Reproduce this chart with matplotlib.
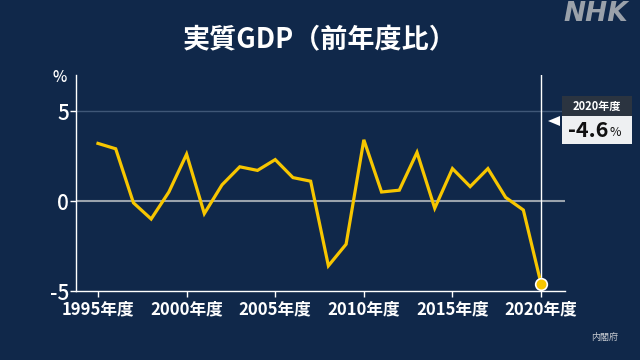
import numpy as np
import matplotlib.pyplot as plt
from matplotlib.patches import Rectangle, Polygon

plt.rcParams['font.family'] = ['Noto Sans CJK JP', 'DejaVu Sans']

years = list(range(1995, 2021))
gdp = [3.2, 2.9, -0.1, -1.0, 0.5, 2.6, -0.7, 0.9, 1.9, 1.7, 2.3, 1.3, 1.1,
       -3.6, -2.4, 3.4, 0.5, 0.6, 2.7, -0.4, 1.8, 0.8, 1.8, 0.2, -0.5, -4.6]
tick_years = [1995, 2000, 2005, 2010, 2015, 2020]
tick_labels = [f'{y}年度' for y in tick_years]

bg = '#10284a'
gold = '#f7c600'

fig = plt.figure(figsize=(6.4, 3.6), dpi=100, facecolor=bg)
ax = fig.add_axes([76/640, 1-291/360, (565-76)/640, (291-75)/360])
ax.set_facecolor(bg)

ax.set_xlim(1993.76, 2021.35)
ax.set_ylim(-5, 7)

ax.axhline(5, color='#3f5777', lw=1, zorder=1)
ax.axhline(0, color='#9aa3ad', lw=1.5, zorder=1)
ax.axvline(2020, color='white', lw=1, zorder=1)

ax.plot(years, gdp, color=gold, lw=2.3, zorder=3, solid_joinstyle='miter')
ax.scatter([years[-1]], [gdp[-1]], s=70, color=gold, edgecolor='white',
           linewidth=1.2, zorder=4)

for s in ['top', 'right']:
    ax.spines[s].set_visible(False)
for s in ['left', 'bottom']:
    ax.spines[s].set_color('white')
    ax.spines[s].set_linewidth(1)

ax.set_yticks([-5, 0, 5])
ax.set_yticklabels(['-5', '0', '5'], fontsize=15, color='white', fontweight='medium')
ax.set_xticks(tick_years)
ax.set_xticklabels(tick_labels, fontsize=12, color='white', fontweight='bold')
ax.tick_params(axis='x', colors='white', length=4, width=1, pad=3)
ax.tick_params(axis='y', colors='white', length=4, width=1, pad=1)

fig.text(60/640, 1-78/360, '%', color='white', fontsize=11, fontweight='medium',
         ha='center', va='center')

fig.text(0.5, 1-40/360, '実質GDP（前年度比）', color='white', fontsize=19.5,
         fontweight='bold', ha='center', va='center')
fig.text(596/640, 1-14/360, 'NHK', color='#9aa1aa', fontsize=19,
         fontweight='heavy', style='italic', ha='center', va='center',
         family=['DejaVu Sans'])
fig.text(605/640, 1-337/360, '内閣府', color='#c8ccd2', fontsize=6.5,
         ha='center', va='center')

# callout box
def px(x, y):
    return (x/640, 1-y/360)

hx, hy = px(562, 116)
fig.patches.append(Rectangle((hx, hy), 70/640, 20/360, transform=fig.transFigure,
                             facecolor='#2b3440', edgecolor='none'))
vx, vy = px(562, 144)
fig.patches.append(Rectangle((vx, vy), 70/640, 28/360, transform=fig.transFigure,
                             facecolor='#eef0f2', edgecolor='none'))
fig.patches.append(Polygon([px(548, 121), px(560, 116), px(560, 126)], closed=True,
                           transform=fig.transFigure, facecolor='white',
                           edgecolor='none'))
fig.text(597/640, 1-106/360, '2020年度', color='white', fontsize=8,
         fontweight='bold', ha='center', va='center')
fig.text(588/640, 1-130/360, '-4.6', color='#111111', fontsize=15.5,
         fontweight='bold', ha='center', va='center')
fig.text(615/640, 1-133/360, '%', color='#111111', fontsize=9,
         ha='center', va='center')

fig.savefig('out.png', dpi=100, facecolor=bg)
